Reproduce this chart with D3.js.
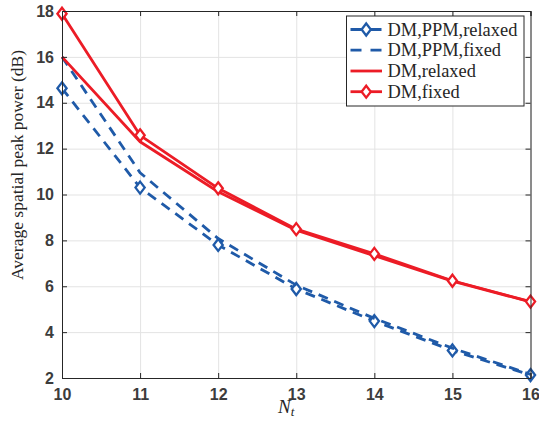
<!DOCTYPE html>
<html>
<head>
<meta charset="utf-8">
<script src="https://cdn.jsdelivr.net/npm/d3@7"></script>
<style>
  html, body { margin: 0; padding: 0; background: #fff; }
  svg { display: block; }
</style>
</head>
<body>
<svg id="chart" width="539" height="431"></svg>
<script>
// Number of transmit antennas
const nt = [10, 11, 12, 13, 14, 15, 16];

// Average spatial peak power (dB) per scheme
const dmPpmRelaxed = [14.63, 10.30, 7.80, 5.88, 4.48, 3.20, 2.13];
const dmPpmFixed   = [16.00, 10.95, 8.08, 6.05, 4.60, 3.30, 2.16];
const dmRelaxed    = [16.00, 12.30, 10.12, 8.44, 7.33, 6.22, 5.32];
const dmFixed      = [17.88, 12.58, 10.27, 8.49, 7.41, 6.24, 5.33];

// Axis ticks
const xTicks = [10, 11, 12, 13, 14, 15, 16];
const yTicks = [2, 4, 6, 8, 10, 12, 14, 16, 18];

const legendLabels = ["DM,PPM,relaxed", "DM,PPM,fixed", "DM,relaxed", "DM,fixed"];

const BLUE = "#1f5aa8";
const RED = "#ec1c26";
const LW = 2.8;

const series = [
  { name: legendLabels[0], values: dmPpmRelaxed, color: BLUE, dash: "10,7", marker: true },
  { name: legendLabels[1], values: dmPpmFixed,   color: BLUE, dash: "10,7", marker: false },
  { name: legendLabels[2], values: dmRelaxed,    color: RED,  dash: null,   marker: false },
  { name: legendLabels[3], values: dmFixed,      color: RED,  dash: null,   marker: true }
];

const svg = d3.select("#chart");
const L = 62, R = 530.5, T = 11, B = 378;

const x = d3.scaleLinear().domain([10, 16]).range([L, R]);
const y = d3.scaleLinear().domain([2, 18]).range([B, T]);

// Grid
const grid = svg.append("g").attr("class", "grid");
grid.append("g").attr("transform", `translate(0,${B})`)
  .call(d3.axisBottom(x).tickValues(xTicks).tickSize(-(B - T)).tickFormat(""))
  .call(g => g.select(".domain").remove())
  .call(g => g.selectAll("line").attr("stroke", "#e3e3e3").attr("stroke-width", 1));
grid.append("g").attr("transform", `translate(${L},0)`)
  .call(d3.axisLeft(y).tickValues(yTicks).tickSize(-(R - L)).tickFormat(""))
  .call(g => g.select(".domain").remove())
  .call(g => g.selectAll("line").attr("stroke", "#e3e3e3").attr("stroke-width", 1));

// Series lines
const line = d3.line().x((d, i) => x(nt[i])).y(d => y(d));
const diamond = (cx, cy) => `M${cx},${cy - 6} L${cx + 4.6},${cy} L${cx},${cy + 6} L${cx - 4.6},${cy} Z`;

series.forEach(s => {
  const g = svg.append("g");
  g.append("path")
    .attr("d", line(s.values))
    .attr("fill", "none")
    .attr("stroke", s.color)
    .attr("stroke-width", LW)
    .attr("stroke-linejoin", "round")
    .attr("stroke-dasharray", s.dash);
  if (s.marker) {
    g.selectAll("path.mk").data(s.values).enter().append("path")
      .attr("class", "mk")
      .attr("d", (d, i) => diamond(x(nt[i]), y(d)))
      .attr("fill", "#fff")
      .attr("stroke", s.color)
      .attr("stroke-width", 2.3);
  }
});

// Axes (box with inward ticks)
const axisColor = "#262626";
const tickFont = g => g.selectAll("text")
  .attr("font-family", "'Liberation Sans', Arial, sans-serif")
  .attr("font-weight", "bold")
  .attr("font-size", 16)
  .attr("fill", "#3c3c3c");

svg.append("g").attr("transform", `translate(0,${B})`)
  .call(d3.axisBottom(x).tickValues(xTicks).tickSize(-5).tickPadding(11).tickFormat(d3.format("d")))
  .call(tickFont)
  .call(g => g.selectAll("line,path").attr("stroke", axisColor));
svg.append("g").attr("transform", `translate(${L},0)`)
  .call(d3.axisLeft(y).tickValues(yTicks).tickSize(-5).tickPadding(8).tickFormat(d3.format("d")))
  .call(tickFont)
  .call(g => g.selectAll("line,path").attr("stroke", axisColor));
svg.append("g").attr("transform", `translate(0,${T})`)
  .call(d3.axisTop(x).tickValues(xTicks).tickSize(-5).tickFormat(""))
  .call(g => g.selectAll("line,path").attr("stroke", axisColor));
svg.append("g").attr("transform", `translate(${R},0)`)
  .call(d3.axisRight(y).tickValues(yTicks).tickSize(-5).tickFormat(""))
  .call(g => g.selectAll("line,path").attr("stroke", axisColor));

// Axis titles
const serif = "'Liberation Serif', 'Times New Roman', serif";
const xt = svg.append("text")
  .attr("x", 278).attr("y", 413)
  .attr("font-family", serif)
  .attr("font-size", 19)
  .attr("font-style", "italic")
  .attr("fill", "#262626");
xt.append("tspan").text("N");
xt.append("tspan").attr("font-size", 13).attr("dy", 3).text("t");

svg.append("text")
  .attr("transform", "translate(23,165) rotate(-90)")
  .attr("text-anchor", "middle")
  .attr("font-family", serif)
  .attr("font-size", 17.5)
  .attr("fill", "#262626")
  .text("Average spatial peak power (dB)");

// Legend
const lg = svg.append("g");
lg.append("rect")
  .attr("x", 346.5).attr("y", 16).attr("width", 177.5).attr("height", 90)
  .attr("fill", "#fff").attr("stroke", axisColor).attr("stroke-width", 1);
const rowY = [29.5, 50.2, 71, 91.7];
const labels = [];
series.forEach((s, i) => {
  const cy = rowY[i];
  lg.append("line")
    .attr("x1", 350.5).attr("x2", 382).attr("y1", cy).attr("y2", cy)
    .attr("stroke", s.color).attr("stroke-width", LW)
    .attr("stroke-dasharray", s.dash ? "11,9" : null);
  if (s.marker) {
    lg.append("path").attr("d", diamond(366.2, cy))
      .attr("fill", "#fff").attr("stroke", s.color).attr("stroke-width", 2.3);
  }
  labels.push(lg.append("text")
    .attr("x", 387.5).attr("y", cy + 6)
    .attr("font-family", serif)
    .attr("font-size", 18)
    .attr("fill", "#262626")
    .text(s.name));
});
// Size legend text so the longest entry fits the box
const widest = d3.max(labels, t => t.node().getComputedTextLength());
const fs = Math.min(18.5, 18 * 130 / widest);
labels.forEach(t => t.attr("font-size", fs));
</script>
</body>
</html>
